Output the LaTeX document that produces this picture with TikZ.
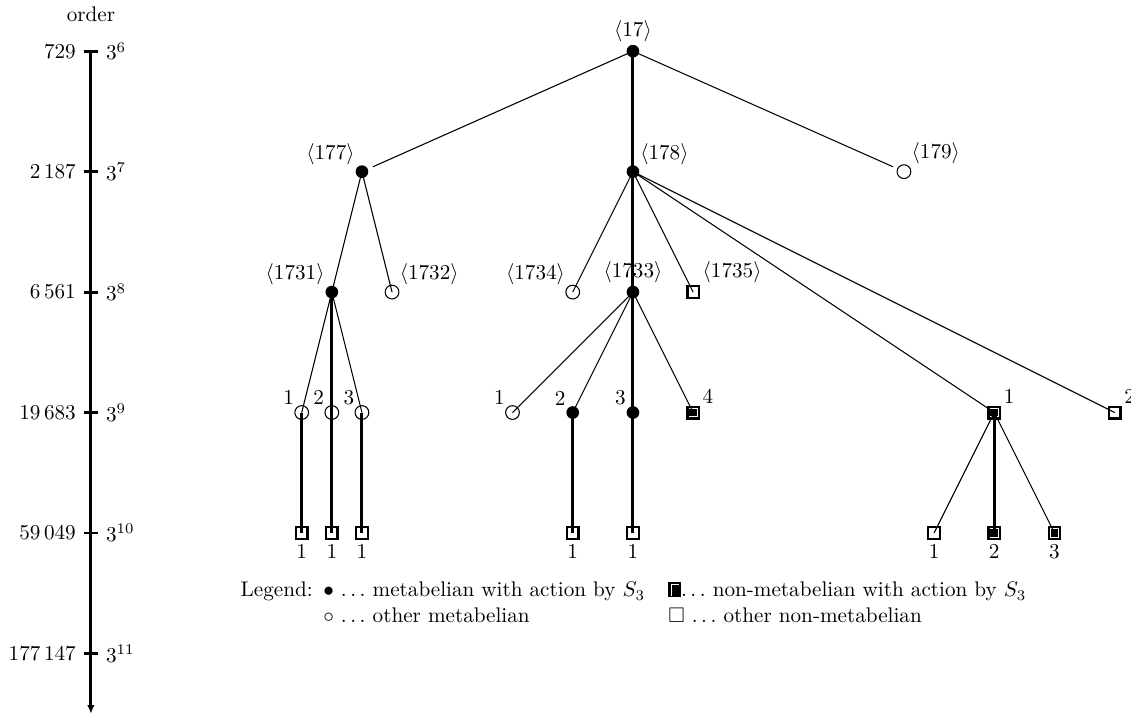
\documentclass[tikz,border=0pt]{standalone}
\usepackage{amsmath,amssymb}
\usepackage{tikz}
\usetikzlibrary{arrows.meta}
\newcommand{\nmsym}{\tikz[baseline=0pt]{\fill (0,0) rectangle (6pt,7pt); \draw[white, line width=0.5pt] (1.3pt,0.6pt) -- (1.3pt,5.7pt) -- (5pt,5.7pt);}}

\begin{document}
\begin{tikzpicture}[
  mb/.style={circle, fill=black, inner sep=0pt, minimum size=6pt},
  om/.style={circle, draw=black, fill=white, line width=0.5pt, inner sep=0pt, minimum size=6.5pt},
  nm/.style={rectangle, draw=black, fill=white, line width=1.1pt, inner sep=0pt, minimum size=5.5pt, path picture={\fill[black] ([shift={(0.9pt,0.9pt)}]path picture bounding box.south west) rectangle ([shift={(-0.9pt,-0.9pt)}]path picture bounding box.north east);}},
  on/.style={rectangle, draw=black, fill=white, line width=1.1pt, inner sep=0pt, minimum size=5.5pt},
  br/.style={line width=0.5pt},
  mainbr/.style={line width=1.4pt},
  every label/.append style={inner sep=1pt}
]
\useasboundingbox (-10.51,0.85) rectangle (8.27,-11.09);
% order axis
\node (order) at (-9,0.61) {order};
\coordinate (axtop) at (-9,0);
\coordinate (axend) at (-9,-11);
\draw[mainbr, -{Latex[length=4pt,width=3.5pt]}] (axtop) -- (axend);
\draw[mainbr] (-9.11,0) node[left] {729} -- (-8.89,0) node[right] {$3^{6}$};
\draw[mainbr] (-9.11,-2) node[left] {2\,187} -- (-8.89,-2) node[right] {$3^{7}$};
\draw[mainbr] (-9.11,-4) node[left] {6\,561} -- (-8.89,-4) node[right] {$3^{8}$};
\draw[mainbr] (-9.11,-6) node[left] {19\,683} -- (-8.89,-6) node[right] {$3^{9}$};
\draw[mainbr] (-9.11,-8) node[left] {59\,049} -- (-8.89,-8) node[right] {$3^{10}$};
\draw[mainbr] (-9.11,-10) node[left] {177\,147} -- (-8.89,-10) node[right] {$3^{11}$};

% order 3^6 and 3^7
\node[mb, label={above:$\langle 17\rangle$}] (n17) at (0,0) {};
\node[mb, label={above left:$\langle 177\rangle$}] (n177) at (-4.5,-2) {};
\node[mb, label={above right:$\langle 178\rangle$}] (n178) at (0,-2) {};
\node[om, label={above right:$\langle 179\rangle$}] (n179) at (4.5,-2) {};
% order 3^8
\node[mb, label={above left:$\langle 1731\rangle$}] (n1731) at (-5,-4) {};
\node[om, label={above right:$\langle 1732\rangle$}] (n1732) at (-4,-4) {};
\node[om, label={above left:$\langle 1734\rangle$}] (n1734) at (-1,-4) {};
\node[mb, label={above:$\langle 1733\rangle$}] (n1733) at (0,-4) {};
\node[on, label={above right:$\langle 1735\rangle$}] (n1735) at (1,-4) {};
% order 3^9
\node[om, label={above left:1}] (a1) at (-5.5,-6) {};
\node[om, label={above left:2}] (a2) at (-5,-6) {};
\node[om, label={above left:3}] (a3) at (-4.5,-6) {};
\node[om, label={above left:1}] (b1) at (-2,-6) {};
\node[mb, label={above left:2}] (b2) at (-1,-6) {};
\node[mb, label={above left:3}] (b3) at (0,-6) {};
\node[nm, label={above right:4}] (b4) at (1,-6) {};
\node[nm, label={above right:1}] (c) at (6,-6) {};
\node[on, label={above right:2}] (d) at (8,-6) {};
% order 3^10
\node[on, label={[inner sep=2pt]below:1}] (a1x) at (-5.5,-8) {};
\node[on, label={[inner sep=2pt]below:1}] (a2x) at (-5,-8) {};
\node[on, label={[inner sep=2pt]below:1}] (a3x) at (-4.5,-8) {};
\node[on, label={[inner sep=2pt]below:1}] (b2x) at (-1,-8) {};
\node[on, label={[inner sep=2pt]below:1}] (b3x) at (0,-8) {};
\node[on, label={[inner sep=2pt]below:1}] (c1) at (5,-8) {};
\node[nm, label={[inner sep=2pt]below:2}] (c2) at (6,-8) {};
\node[nm, label={[inner sep=2pt]below:3}] (c3) at (7,-8) {};

% branches
\draw[br, shorten >=0.2cm] (n17.center) -- (n177.center);
\draw[mainbr] (n17.center) -- (n178.center);
\draw[br, shorten >=0.2cm] (n17.center) -- (n179.center);
\draw[br] (n177.center) -- (n1731.center);
\draw[br] (n177.center) -- (n1732.center);
\draw[br] (n178.center) -- (n1734.center);
\draw[mainbr] (n178.center) -- (n1733.center);
\draw[br] (n178.center) -- (n1735.center);
\draw[br] (n178.center) -- (c.center);
\draw[br] (n178.center) -- (d.center);
\draw[br] (n1731.center) -- (a1.center);
\draw[mainbr] (n1731.center) -- (a2.center);
\draw[br] (n1731.center) -- (a3.center);
\draw[br] (n1733.center) -- (b1.center);
\draw[br] (n1733.center) -- (b2.center);
\draw[mainbr] (n1733.center) -- (b3.center);
\draw[br] (n1733.center) -- (b4.center);
\draw[mainbr] (a1.center) -- (a1x.center);
\draw[mainbr] (a2.center) -- (a2x.center);
\draw[mainbr] (a3.center) -- (a3x.center);
\draw[mainbr] (b2.center) -- (b2x.center);
\draw[mainbr] (b3.center) -- (b3x.center);
\draw[br] (c.center) -- (c1.center);
\draw[mainbr] (c.center) -- (c2.center);
\draw[br] (c.center) -- (c3.center);

% legend
\node[anchor=base west, inner sep=0pt] (legend) at (-6.52,-9.06) {\begin{tabular}[t]{@{}l@{\hspace{5pt}}l@{\hspace{11pt}}l@{}}
Legend: & $\bullet$ $\ldots$ metabelian with action by $S_3$ & \nmsym$\ldots$ non-metabelian with action by $S_3$\\
 & $\circ$ $\ldots$ other metabelian & $\square$ $\ldots$ other non-metabelian
\end{tabular}};
\end{tikzpicture}
\end{document}
